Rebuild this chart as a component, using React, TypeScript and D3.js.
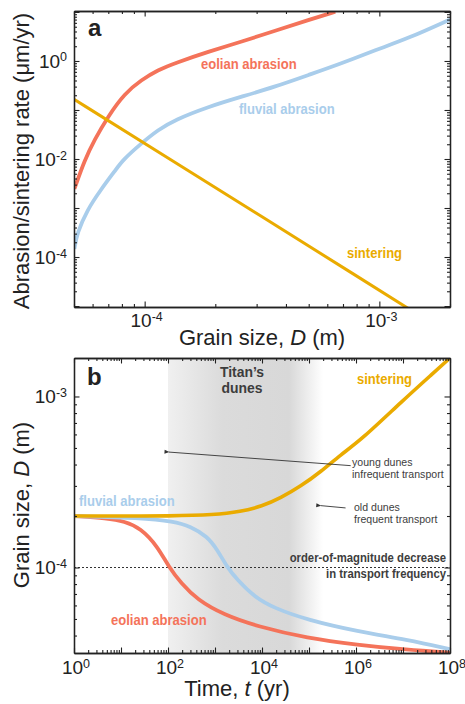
import React, { useEffect, useRef } from 'react';
import * as d3 from 'd3';

// ---- panel a: abrasion / sintering rate vs grain size ----
const eolianRateD = [5.02e-5, 5.55e-5, 6.11e-5, 6.97e-5, 8.22e-5, 9.68e-5, 1.14e-4, 1.34e-4, 1.87e-4, 2.59e-4, 3.6e-4, 4.99e-4, 6.49e-4];
const eolianRate = [2.45e-3, 9.5e-3, 2.45e-2, 7.3e-2, 0.219, 0.409, 0.655, 0.897, 1.55, 2.48, 4.15, 6.87, 10.1];

const fluvialRateD = [5.02e-5, 5.15e-5, 5.69e-5, 6.49e-5, 7.52e-5, 8.07e-5, 9.68e-5, 1.14e-4, 1.34e-4, 1.87e-4, 2.59e-4, 3.6e-4, 4.99e-4, 6.93e-4, 9.62e-4, 1.33e-3, 2.01e-3];
const fluvialRate = [1.46e-4, 3.05e-4, 9.1e-4, 2.33e-3, 5.97e-3, 9.55e-3, 2.09e-2, 3.91e-2, 6.25e-2, 0.117, 0.187, 0.299, 0.518, 0.897, 1.67, 2.9, 7.1];

const sinterRateD = [5e-5, 1e-4, 1e-3, 2e-3];
const sinterRate = [0.165, 0.021, 2.1e-5, 2.6e-6];

// ---- panel b: grain size vs time ----
const eolianT = [1, 5, 12, 26, 60, 105, 190, 420, 1550, 8000, 9.2e4, 1.07e6, 1.2e7, 1e8];
const eolianSize = [2.0e-4, 1.94e-4, 1.86e-4, 1.7e-4, 1.33e-4, 1.0e-4, 8.1e-5, 6.47e-5, 5.28e-5, 4.52e-5, 3.86e-5, 3.53e-5, 3.3e-5, 3.18e-5];

const fluvialT = [1, 26, 134, 300, 690, 1120, 1830, 2980, 6760, 1.8e4, 9.2e4, 1.07e6, 1.23e7, 1e8];
const fluvialSize = [2.0e-4, 1.95e-4, 1.86e-4, 1.74e-4, 1.52e-4, 1.27e-4, 1.0e-4, 8.47e-5, 6.76e-5, 5.79e-5, 4.94e-5, 4.23e-5, 3.78e-5, 3.33e-5];

const sinterT = [1, 10, 100, 1000, 3500, 1e4, 2.5e4, 6.6e4, 1.8e5, 4.7e5, 1.3e6, 1e7, 4.4e7, 1e8];
const sinterSize = [2.0e-4, 2.0e-4, 2.0e-4, 2.03e-4, 2.12e-4, 2.28e-4, 2.55e-4, 2.98e-4, 3.64e-4, 4.56e-4, 5.58e-4, 9.5e-4, 1.37e-3, 1.68e-3];

const titanDunesT = [100, 2e5]; // shaded age range
const transportDrop = 1e-4; // dotted line

// tick labels
const rateTicks = [1e0, 1e-2, 1e-4];
const grainTicks = [1e-4, 1e-3];
const sizeTicks = [1e-3, 1e-4];
const timeTicks = [1e0, 1e2, 1e4, 1e6, 1e8];

const RED = '#f4735a';
const BLUE = '#a9cdeb';
const GOLD = '#eaab00';
const INK = '#222';
const NOTE = '#3d3d3d';
const SANS = '"Liberation Sans", Arial, sans-serif';
const SQUEEZE = 0.87; // condensed look for in-plot labels

const W = 465;
const H = 704;

const isPow10 = (d: number) => Math.abs(Math.log10(d) - Math.round(Math.log10(d))) < 1e-6;

const App: React.FC = () => {
  const svgRef = useRef<SVGSVGElement | null>(null);

  useEffect(() => {
    if (!svgRef.current) return;
    const svg = d3.select(svgRef.current);
    svg.selectAll('*').remove();

    const left = 74;
    const right = 450;

    // scales
    const xa = d3.scaleLog().domain([5e-5, 2e-3]).range([left, right]);
    const ya = d3.scaleLog().domain([Math.pow(10, -5.02), Math.pow(10, 1.02)]).range([307, 11]);
    const xb = d3.scaleLog().domain([1, 1e8]).range([left, right]);
    const yb = d3.scaleLog().domain([Math.pow(10, -4.5), Math.pow(10, -2.775)]).range([653, 358]);

    const defs = svg.append('defs');
    defs.append('clipPath').attr('id', 'clipA').append('rect')
      .attr('x', left).attr('y', ya.range()[1]).attr('width', right - left).attr('height', ya.range()[0] - ya.range()[1]);
    defs.append('clipPath').attr('id', 'clipB').append('rect')
      .attr('x', left).attr('y', yb.range()[1]).attr('width', right - left).attr('height', yb.range()[0] - yb.range()[1]);

    const grad = defs.append('linearGradient').attr('id', 'dunes')
      .attr('gradientUnits', 'userSpaceOnUse')
      .attr('x1', xb(titanDunesT[0])).attr('x2', xb(titanDunesT[1])).attr('y1', 0).attr('y2', 0);
    [[0, '#f0f0f0'], [0.35, '#dbdbdb'], [0.78, '#d8d8d8'], [1, '#ffffff']].forEach(([o, c]) => {
      grad.append('stop').attr('offset', o as number).attr('stop-color', c as string);
    });

    const marker = defs.append('marker').attr('id', 'arrow')
      .attr('viewBox', '0 0 10 10').attr('refX', 1).attr('refY', 5)
      .attr('markerWidth', 8).attr('markerHeight', 5).attr('orient', 'auto-start-reverse')
      .attr('markerUnits', 'userSpaceOnUse');
    marker.append('path').attr('d', 'M10,1 L0,5 L10,9 Z').attr('fill', '#333');

    // frame with inward ticks on all four sides
    function frame(x: d3.ScaleLogarithmic<number, number>, y: d3.ScaleLogarithmic<number, number>) {
      const [x0, x1] = x.range();
      const [y0, y1] = y.range();
      const xt = x.ticks();
      const yt = y.ticks();
      const g = svg.append('g').attr('class', 'frame');
      const sides: [any, string, number[], number][] = [
        [d3.axisBottom, `translate(0,${y0})`, xt, 0],
        [d3.axisTop, `translate(0,${y1})`, xt, 0],
        [d3.axisLeft, `translate(${x0},0)`, yt, 1],
        [d3.axisRight, `translate(${x1},0)`, yt, 1],
      ];
      sides.forEach(([ax, tr, ticks, isY]) => {
        const sc = isY ? y : x;
        const major = ticks.filter(isPow10);
        const minor = ticks.filter((d) => !isPow10(d));
        g.append('g').attr('transform', tr)
          .call(ax(sc).tickValues(minor).tickSizeInner(-3).tickSizeOuter(0).tickFormat(() => ''));
        g.append('g').attr('transform', tr)
          .call(ax(sc).tickValues(major).tickSizeInner(-5.5).tickSizeOuter(0).tickFormat(() => ''));
      });
      g.selectAll('path, line').attr('stroke', INK).attr('stroke-width', 1.1);
      g.selectAll('.domain').attr('stroke-width', 1.3);
    }

    function powLabel(v: number, x: number, y: number, anchor: string) {
      const exp = Math.round(Math.log10(v));
      const t = svg.append('text')
        .attr('x', x).attr('y', y).attr('text-anchor', anchor)
        .style('font-family', SANS).style('font-size', '19px').attr('fill', INK);
      t.append('tspan').text('10');
      t.append('tspan').attr('dy', -6.5).style('font-size', '12.5px').text(String(exp));
    }

    // in-plot labels: squeezed horizontally to mimic a condensed face
    function label(txt: string, x: number, y: number, color: string, opts: any = {}) {
      const sx = opts.squeeze ?? SQUEEZE;
      svg.append('text')
        .attr('transform', `translate(${x},${y}) scale(${sx},1)`)
        .attr('text-anchor', opts.anchor || 'start')
        .style('font-family', SANS)
        .style('font-size', (opts.size || 15) + 'px')
        .style('font-weight', opts.weight || 'bold')
        .attr('fill', color)
        .text(txt);
    }

    function title(pre: string, it: string, post: string, x: number, y: number, rotate = false) {
      const t = svg.append('text')
        .attr('text-anchor', 'middle')
        .style('font-family', SANS).style('font-size', '22px').attr('fill', INK);
      if (rotate) t.attr('transform', `translate(${x},${y}) rotate(-90)`);
      else t.attr('x', x).attr('y', y);
      t.append('tspan').text(pre);
      if (it) t.append('tspan').style('font-style', 'italic').text(it);
      t.append('tspan').text(post);
    }

    const zip = (a: number[], b: number[]) => a.map((d, i) => [d, b[i]] as [number, number]);

    // ================= panel a =================
    const lineA = d3.line<[number, number]>().x((d) => xa(d[0])).y((d) => ya(d[1])).curve(d3.curveBasis);
    const gA = svg.append('g').attr('clip-path', 'url(#clipA)');
    gA.append('path').attr('d', lineA(zip(eolianRateD, eolianRate)))
      .attr('fill', 'none').attr('stroke', RED).attr('stroke-width', 3.8);
    gA.append('path').attr('d', lineA(zip(fluvialRateD, fluvialRate)))
      .attr('fill', 'none').attr('stroke', BLUE).attr('stroke-width', 3.8);
    gA.append('path').attr('d', lineA(zip(sinterRateD, sinterRate)))
      .attr('fill', 'none').attr('stroke', GOLD).attr('stroke-width', 3);

    frame(xa, ya);
    rateTicks.forEach((v) => powLabel(v, 67, ya(v) + 7, 'end'));
    grainTicks.forEach((v) => powLabel(v, xa(v) + 2, 327, 'middle'));
    title('Abrasion/sintering rate (μm/yr)', '', '', 29, 161, true);
    title('Grain size, ', 'D', ' (m)', 262, 345);

    label('a', 88, 36, INK, { size: 24, squeeze: 1 });
    label('eolian abrasion', 201, 69, RED);
    label('fluvial abrasion', 239, 114, BLUE);
    label('sintering', 347, 258, GOLD);

    // ================= panel b =================
    const [b0, b1] = yb.range();
    svg.append('rect')
      .attr('x', xb(titanDunesT[0])).attr('y', b1)
      .attr('width', xb(titanDunesT[1]) - xb(titanDunesT[0])).attr('height', b0 - b1)
      .attr('fill', 'url(#dunes)');

    svg.append('line')
      .attr('x1', left).attr('x2', right).attr('y1', yb(transportDrop)).attr('y2', yb(transportDrop))
      .attr('stroke', '#333').attr('stroke-width', 1.2).attr('stroke-dasharray', '2,2');

    const lineB = d3.line<[number, number]>().x((d) => xb(d[0])).y((d) => yb(d[1])).curve(d3.curveBasis);
    const gB = svg.append('g').attr('clip-path', 'url(#clipB)');
    gB.append('path').attr('d', lineB(zip(eolianT, eolianSize)))
      .attr('fill', 'none').attr('stroke', RED).attr('stroke-width', 3.8);
    gB.append('path').attr('d', lineB(zip(fluvialT, fluvialSize)))
      .attr('fill', 'none').attr('stroke', BLUE).attr('stroke-width', 3.8);
    gB.append('path').attr('d', lineB(zip(sinterT, sinterSize)))
      .attr('fill', 'none').attr('stroke', GOLD).attr('stroke-width', 3.6);

    // arrows (young / old dunes)
    const arrows: [number, number, number, number][] = [
      [7.7e5, 3.94e-4, 105, 4.73e-4],
      [6.0e5, 2.23e-4, 1.78e5, 2.3e-4],
    ];
    arrows.forEach(([t0, d0, t1, d1]) => {
      svg.append('line')
        .attr('x1', xb(t0)).attr('y1', yb(d0)).attr('x2', xb(t1)).attr('y2', yb(d1))
        .attr('stroke', '#333').attr('stroke-width', 0.9).attr('marker-end', 'url(#arrow)');
    });

    frame(xb, yb);
    sizeTicks.forEach((v) => powLabel(v, 67, yb(v) + 7, 'end'));
    timeTicks.forEach((v) => powLabel(v, xb(v) + 2, 674, 'middle'));
    title('Grain size, ', 'D', ' (m)', 29, 505, true);
    title('Time, ', 't', ' (yr)', 237, 696);

    label('b', 87, 385, INK, { size: 24, squeeze: 1 });
    label('Titan\u2019s', 242, 377, NOTE, { anchor: 'middle', size: 15, squeeze: 0.93 });
    label('dunes', 242, 393, NOTE, { anchor: 'middle', size: 15, squeeze: 0.93 });
    label('sintering', 357, 384, GOLD);
    label('fluvial abrasion', 79, 506, BLUE);
    label('eolian abrasion', 111, 625, RED);

    label('young dunes', 352, 466, NOTE, { size: 11.5, weight: 'normal', squeeze: 0.92 });
    label('infrequent transport', 352, 477.5, NOTE, { size: 11.5, weight: 'normal', squeeze: 0.92 });
    label('old dunes', 354, 511, NOTE, { size: 11.5, weight: 'normal', squeeze: 0.92 });
    label('frequent transport', 354, 522.5, NOTE, { size: 11.5, weight: 'normal', squeeze: 0.92 });
    label('order-of-magnitude decrease', 446, 562, NOTE, { anchor: 'end', size: 13 });
    label('in transport frequency', 446, 578, NOTE, { anchor: 'end', size: 13 });
  }, []);

  return (
    <svg
      ref={svgRef}
      width={W}
      height={H}
      style={{ position: 'absolute', left: 0, top: 0, background: '#fff' }}
    />
  );
};

export default App;
